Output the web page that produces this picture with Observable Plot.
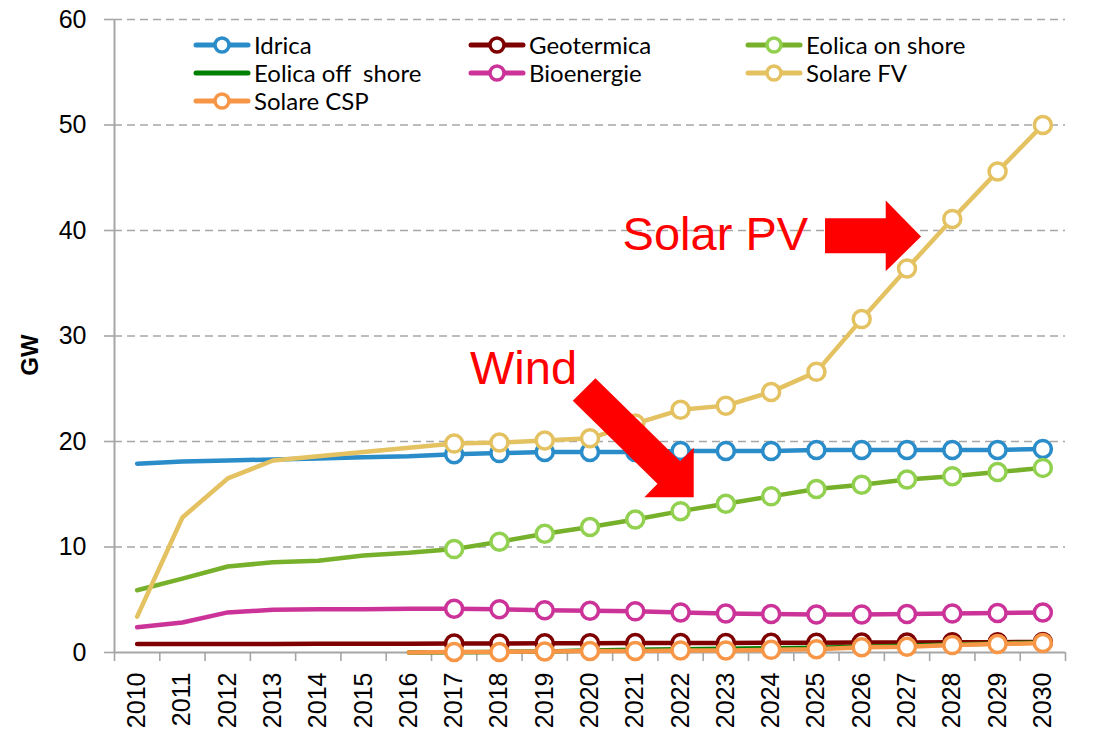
<!DOCTYPE html>
<html><head><meta charset="utf-8">
<script src="https://cdn.jsdelivr.net/npm/d3@7"></script>
<script src="https://cdn.jsdelivr.net/npm/@observablehq/plot@0.6"></script>
<style>
body{margin:0;background:#fff;}
#wrap{position:relative;width:1107px;height:732px;overflow:hidden;}
#legend{position:absolute;left:0;top:0;}
.item{position:absolute;display:flex;align-items:center;font-family:Lato,"Open Sans",sans-serif;font-size:24px;white-space:pre;color:#000;line-height:1;}
.item svg{margin-right:3px;}
</style></head>
<body><div id="wrap"><div id="legend"></div></div>
<script>
// ---- data ----
const years = [2010,2011,2012,2013,2014,2015,2016,2017,2018,2019,2020,2021,2022,2023,2024,2025,2026,2027,2028,2029,2030];
const seriesNames = ["Idrica","Geotermica","Eolica on shore","Eolica off  shore","Bioenergie","Solare FV","Solare CSP"];
const idrica      = [17.9,18.1,18.2,18.3,18.4,18.5,18.6,18.8,18.9,19.0,19.0,19.0,19.1,19.1,19.1,19.2,19.2,19.2,19.2,19.2,19.3];
const geotermica  = [0.8,0.8,0.8,0.8,0.82,0.82,0.83,0.85,0.86,0.87,0.88,0.89,0.9,0.91,0.92,0.93,0.94,0.95,0.96,0.98,1.0];
const eolicaOn    = [5.9,7.0,8.15,8.55,8.7,9.2,9.45,9.8,10.5,11.25,11.9,12.6,13.4,14.1,14.8,15.5,15.9,16.4,16.7,17.1,17.5];
const eolicaOff   = [null,null,null,null,null,null,0,0.03,0.05,0.1,0.2,0.25,0.3,0.35,0.4,0.45,0.55,0.65,0.75,0.85,0.95];
const bioenergie  = [2.4,2.85,3.8,4.05,4.1,4.1,4.15,4.15,4.1,4.0,3.95,3.9,3.8,3.7,3.65,3.6,3.6,3.65,3.7,3.75,3.8];
const solareFV    = [3.4,12.8,16.5,18.2,18.6,19.0,19.4,19.8,19.9,20.1,20.3,21.7,23.0,23.4,24.7,26.6,31.6,36.4,41.1,45.6,50.0];
const solareCSP   = [null,null,null,null,null,null,0,0.05,0.05,0.1,0.15,0.15,0.2,0.2,0.25,0.3,0.5,0.55,0.7,0.8,0.9];
const seriesValues = [idrica, geotermica, eolicaOn, eolicaOff, bioenergie, solareFV, solareCSP];
const lineColors   = ["#2A8CC8","#7F0000","#77B02A","#008000","#CC3399","#E4C261","#F79646"];
const markerColors = ["#2A8CC8","#7F0000","#92D050",null,"#CC3399","#E4C261","#F79646"];
const markerFrom = 2017;
const yTicks = [0,10,20,30,40,50,60];
const yLabel = "GW";

// annotations (data coordinates)
const annoTexts = [
  {x: 2020.72, y: 39.6, text: "Solar PV"},
  {x: 2017.35, y: 26.9, text: "Wind"}
];
const arrowSolar = [
  {x:2025.19,y:41.17},{x:2026.53,y:41.17},{x:2026.53,y:42.84},{x:2027.31,y:39.43},
  {x:2026.53,y:36.14},{x:2026.53,y:37.84},{x:2025.19,y:37.84}
];
const arrowWind = [
  {x:2020.12,y:26.0},{x:2021.99,y:18.13},{x:2022.29,y:19.40},{x:2022.29,y:14.72},
  {x:2021.20,y:14.72},{x:2021.49,y:15.99},{x:2019.62,y:23.86}
];

// ---- build ----
const rows = [];
seriesNames.forEach((s, i) => years.forEach((yr, j) => rows.push({series: s, idx: i, year: yr, value: seriesValues[i][j]})));
const xDomain = [years[0] - 0.5, years[years.length - 1] + 0.5];
const boundaries = years.map(y => y - 0.5).concat([years[years.length - 1] + 0.5]);

const marks = [
  Plot.gridY(yTicks.filter(d => d > 0), {stroke: "#A6A6A6", strokeOpacity: 1, strokeDasharray: "8,5", strokeWidth: 1.4}),
  Plot.axisY(yTicks, {tickSize: 10, tickPadding: 18, fontSize: 25, label: null, stroke: "#A6A6A6", strokeWidth: 1.6, fill: "#000"}),
  Plot.axisX(boundaries, {tickSize: 9, tickFormat: () => "", label: null, stroke: "#A6A6A6", strokeWidth: 1.6}),
  Plot.axisX(years, {tickSize: 0, tickRotate: -90, tickPadding: 20, fontSize: 25, label: null, tickFormat: d => String(d), fill: "#000"}),
  Plot.ruleX([xDomain[0]], {stroke: "#A6A6A6", strokeWidth: 2}),
  Plot.ruleY([0], {stroke: "#A6A6A6", strokeWidth: 2})
];
seriesNames.forEach((s, i) => {
  const d = rows.filter(r => r.idx === i);
  marks.push(Plot.line(d, {x: "year", y: "value", stroke: lineColors[i], strokeWidth: 4.5, strokeLinejoin: "round", strokeLinecap: "round"}));
  if (markerColors[i]) {
    marks.push(Plot.dot(d.filter(r => r.year >= markerFrom && r.value != null), {x: "year", y: "value", r: 8.5, fill: "white", stroke: markerColors[i], strokeWidth: 3.5}));
  }
});
marks.push(
  Plot.line(arrowSolar, {x: "x", y: "y", fill: "#FF0000", stroke: null, curve: "linear-closed"}),
  Plot.line(arrowWind, {x: "x", y: "y", fill: "#FF0000", stroke: null, curve: "linear-closed"}),
  Plot.text(annoTexts, {x: "x", y: "y", text: "text", textAnchor: "start", fill: "#FF0000", fontSize: 47})
);

const chart = Plot.plot({
  width: 1107, height: 732,
  marginLeft: 114, marginRight: 42, marginTop: 19, marginBottom: 80,
  x: {domain: xDomain},
  y: {domain: [yTicks[0], yTicks[yTicks.length - 1]]},
  style: {fontFamily: '"Liberation Sans", Arial, sans-serif', fontSize: "25px", background: "white", color: "#000", overflow: "visible"},
  marks
});
document.getElementById("wrap").prepend(chart);

// y-axis title
d3.select(chart).append("text")
  .attr("transform", "translate(30,355) rotate(-90)")
  .attr("text-anchor", "middle").attr("dy", "0.35em")
  .attr("font-family", '"Liberation Sans", Arial, sans-serif')
  .attr("font-size", 24).attr("font-weight", "bold").attr("fill", "#000")
  .text(yLabel);

// legend overlay
const legend = document.getElementById("legend");
const colX = [193, 468, 745], rowY = [45, 73, 101];
seriesNames.forEach((s, i) => {
  const el = document.createElement("div");
  el.className = "item";
  el.style.left = colX[i % 3] + "px";
  el.style.top = (rowY[Math.floor(i / 3)] - 12) + "px";
  el.style.height = "24px";
  const mk = markerColors[i] ? `<circle cx="29" cy="12" r="7" fill="white" stroke="${markerColors[i]}" stroke-width="3.5"/>` : "";
  el.innerHTML = `<svg width="58" height="24"><line x1="3" y1="12" x2="55" y2="12" stroke="${lineColors[i]}" stroke-width="5" stroke-linecap="round"/>${mk}</svg><span>${s}</span>`;
  legend.appendChild(el);
});
</script>
</body></html>
